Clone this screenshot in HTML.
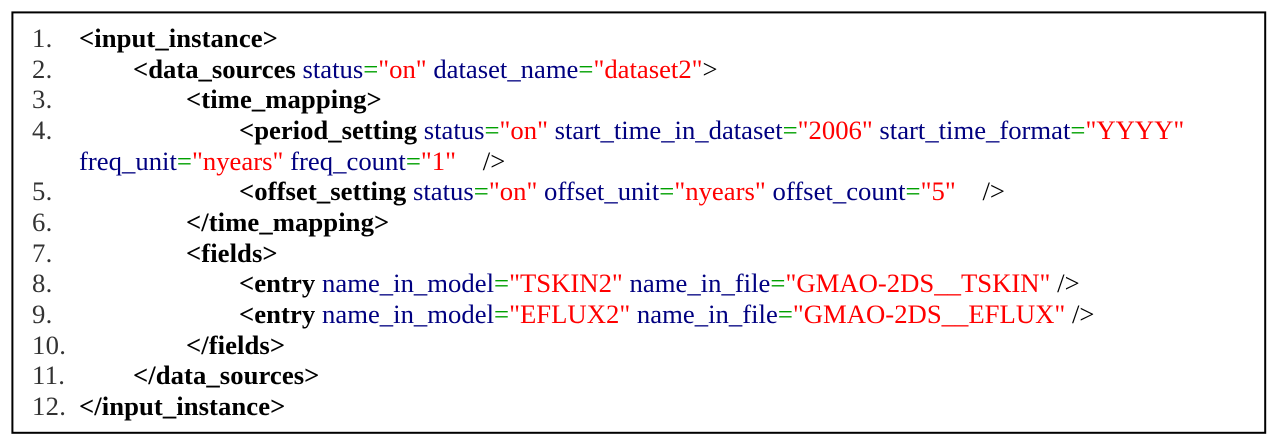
<!DOCTYPE html>
<html><head><meta charset="utf-8"><style>
html,body{margin:0;padding:0;background:#fff;width:1277px;height:446px;overflow:hidden}
svg{position:absolute;left:0;top:0}
.l{position:absolute;white-space:pre;font:26.67px/30px "Liberation Serif",serif;color:#000;letter-spacing:.02px}
.n{color:#333;letter-spacing:.3px;left:32px}
b{font-weight:bold;color:#000;letter-spacing:.07px}
i{font-style:normal;color:#000080}
u{text-decoration:none;color:#00a000}
s{text-decoration:none;color:#f00}
.z,.z b{letter-spacing:0}
</style></head><body>
<svg width="1277" height="446"><rect x="12.4" y="12.4" width="1252.8" height="420.4" fill="none" stroke="#000" stroke-width="2"/></svg>
<div class="l n" style="top:23px">1.</div>
<div class="l n" style="top:54px">2.</div>
<div class="l n" style="top:84px">3.</div>
<div class="l n" style="top:115px">4.</div>
<div class="l n" style="top:176px">5.</div>
<div class="l n" style="top:207px">6.</div>
<div class="l n" style="top:238px">7.</div>
<div class="l n" style="top:268px">8.</div>
<div class="l n" style="top:299px">9.</div>
<div class="l n" style="top:330px">10.</div>
<div class="l n" style="top:360px">11.</div>
<div class="l n" style="top:391px">12.</div>
<div class="l" style="left:79px;top:23px"><b>&lt;input_instance&gt;</b></div>
<div class="l z" style="left:133px;top:54px"><b>&lt;data_sources</b> <i>status</i><u>=</u><s>"on"</s> <i>dataset_name</i><u>=</u><s>"dataset2"</s>&gt;</div>
<div class="l" style="left:186px;top:84px"><b>&lt;time_mapping&gt;</b></div>
<div class="l z" style="left:239px;top:115px"><b>&lt;period_setting</b> <i>status</i><u>=</u><s>"on"</s> <i>start_time_in_dataset</i><u>=</u><s>"2006"</s> <i>start_time_format</i><u>=</u><s>"YYYY"</s></div>
<div class="l" style="left:79px;top:146px"><i>freq_unit</i><u>=</u><s>"nyears"</s> <i>freq_count</i><u>=</u><s>"1"</s>    /&gt;</div>
<div class="l" style="left:239px;top:176px"><b>&lt;offset_setting</b> <i>status</i><u>=</u><s>"on"</s> <i>offset_unit</i><u>=</u><s>"nyears"</s> <i>offset_count</i><u>=</u><s>"5"</s>    /&gt;</div>
<div class="l" style="left:186px;top:207px"><b>&lt;/time_mapping&gt;</b></div>
<div class="l" style="left:186px;top:238px"><b>&lt;fields&gt;</b></div>
<div class="l" style="left:239px;top:268px"><b>&lt;entry</b> <i>name_in_model</i><u>=</u><s>"TSKIN2"</s> <i>name_in_file</i><u>=</u><s>"GMAO-2DS__TSKIN"</s> /&gt;</div>
<div class="l" style="left:239px;top:299px"><b>&lt;entry</b> <i>name_in_model</i><u>=</u><s>"EFLUX2"</s> <i>name_in_file</i><u>=</u><s>"GMAO-2DS__EFLUX"</s> /&gt;</div>
<div class="l" style="left:186px;top:330px"><b>&lt;/fields&gt;</b></div>
<div class="l" style="left:133px;top:360px"><b>&lt;/data_sources&gt;</b></div>
<div class="l" style="left:79px;top:391px"><b>&lt;/input_instance&gt;</b></div>
</body></html>
